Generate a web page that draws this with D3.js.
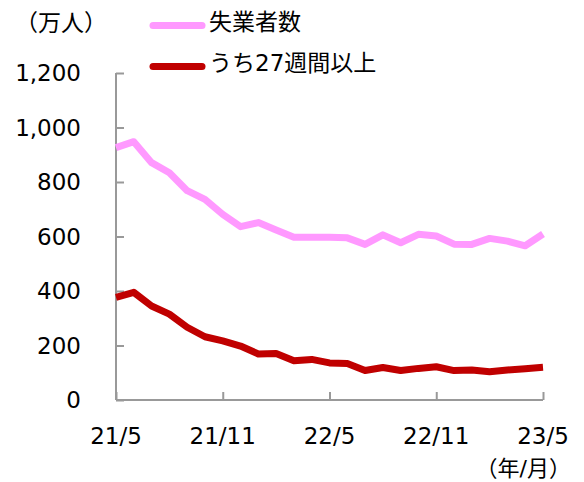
<!DOCTYPE html>
<html>
<head>
<meta charset="utf-8">
<script src="https://cdn.jsdelivr.net/npm/d3@7"></script>
<style>
  body { margin: 0; background: #fff; }
  svg text { font-family: "DejaVu Sans", "Noto Sans CJK JP", sans-serif; fill: #000; }
</style>
</head>
<body>
<svg id="chart" width="584" height="482"></svg>
<script>
// months from 21/5 to 23/5
const months = ["21/5","21/6","21/7","21/8","21/9","21/10","21/11","21/12","22/1","22/2","22/3","22/4",
    "22/5","22/6","22/7","22/8","22/9","22/10","22/11","22/12","23/1","23/2","23/3","23/4","23/5"];
const tickLabels = ["21/5", "21/11", "22/5", "22/11", "23/5"];
const yTicks = [0, 200, 400, 600, 800, 1000, 1200];

// 失業者数 (万人)
const unemployed = [926, 948, 871, 834, 768, 736, 681, 636, 651, 624, 597, 597,
    597, 595, 571, 606, 577, 608, 602, 572, 571, 593, 583, 566, 609];
// うち27週間以上
const longTerm = [377, 395, 345, 315, 267, 232, 217, 198, 169, 171, 144, 149,
    136, 134, 108, 119, 108, 116, 122, 108, 110, 104, 110, 115, 120];

const seriesNames = ["失業者数", "うち27週間以上"];
const colors = ["#FF99FF", "#C00000"];

const svg = d3.select("#chart");

var x = d3.scalePoint().domain(months).range([116, 543]);
var y = d3.scaleLinear().domain([0, 1200]).range([400, 73]);

// y axis
var yAxis = svg.append("g")
    .attr("transform", "translate(116,0)")
    .call(d3.axisRight(y).tickValues(yTicks).tickSize(8).tickFormat(""));
yAxis.select(".domain").attr("d", "M0," + y(1200) + "V" + y(0));
yAxis.selectAll("line, path").attr("stroke", "#999").attr("stroke-width", 2);

svg.append("g").selectAll("text")
    .data(yTicks)
    .enter()
    .append("text")
    .attr("x", 81)
    .attr("y", d => y(d))
    .attr("dy", "0.36em")
    .attr("text-anchor", "end")
    .style("font-size", "23px")
    .text(d => d3.format(",")(d));

// x axis
var xAxis = svg.append("g")
    .attr("transform", "translate(0,400)")
    .call(d3.axisTop(x).tickValues(tickLabels).tickSize(8).tickSizeOuter(0).tickFormat(""));
xAxis.select(".domain").attr("d", "M116,0H543");
xAxis.selectAll("line, path").attr("stroke", "#999").attr("stroke-width", 2);

svg.append("g").selectAll("text")
    .data(tickLabels)
    .enter()
    .append("text")
    .attr("x", d => x(d))
    .attr("y", 444)
    .attr("text-anchor", "middle")
    .style("font-size", "23px")
    .text(d => d);

svg.append("text")
    .attr("x", 571)
    .attr("y", 476)
    .attr("text-anchor", "end")
    .style("font-size", "22px")
    .text("（年/月）");

svg.append("text")
    .attr("x", 61)
    .attr("y", 31)
    .attr("text-anchor", "middle")
    .style("font-size", "23px")
    .text("（万人）");

// lines
var line = d3.line()
    .x((d, i) => x(months[i]))
    .y(d => y(d));

[unemployed, longTerm].forEach((data, k) => {
    svg.append("path")
        .datum(data)
        .attr("fill", "none")
        .attr("stroke", colors[k])
        .attr("stroke-width", 7)
        .attr("stroke-linejoin", "round")
        .attr("d", line);
});

// legend
var legend = svg.append("g").selectAll("g")
    .data(seriesNames)
    .enter()
    .append("g")
    .attr("transform", (d, i) => `translate(0,${25.5 + i * 41})`);
legend.append("line")
    .attr("x1", 153).attr("x2", 202)
    .attr("stroke", (d, i) => colors[i])
    .attr("stroke-width", 7)
    .attr("stroke-linecap", "round");
legend.append("text")
    .attr("x", 209)
    .attr("y", 4)
    .style("font-size", "23px")
    .text(d => d);
</script>
</body>
</html>
